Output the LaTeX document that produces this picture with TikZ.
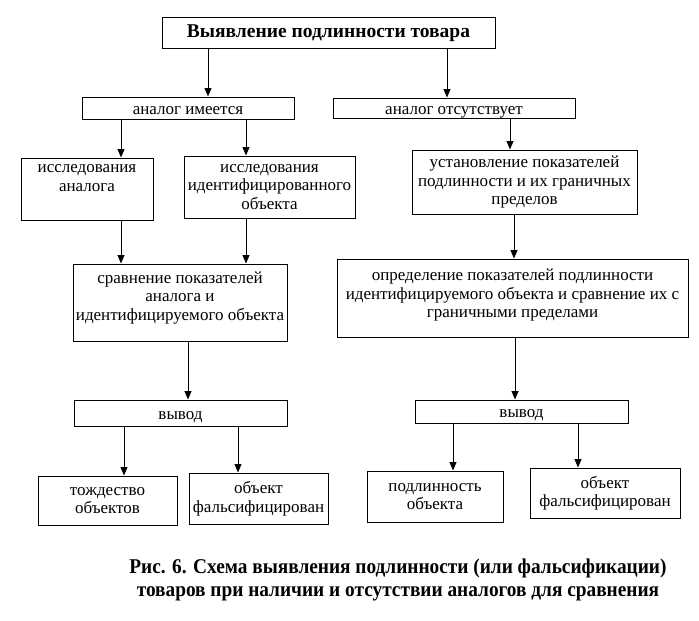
\documentclass[tikz,border=0pt]{standalone}
\usepackage{fontspec}
\setmainfont{Liberation Serif}
\newfontfamily\capfont{Liberation Serif}[FakeStretch=0.92]
\usetikzlibrary{arrows.meta}

\begin{document}
\begin{tikzpicture}[x=1pt, y=-1pt,
        frame/.style={draw, line width=1pt, rectangle, inner sep=0pt, font=\fontsize{17}{18.5}\selectfont},
        box/.style={frame, align=center},
        single/.style={frame, text height=15pt, text depth=2.3pt},
        title_node/.style={frame, font=\fontsize{19.5}{20}\selectfont\bfseries, text height=12pt, text depth=2.3pt},
        caption_node/.style={align=center, font=\capfont\bfseries\fontsize{21}{23}\selectfont},
        arr/.style={line width=1pt, -{Triangle[length=8.5pt, width=7pt]}}
    ]
    \useasboundingbox (0,0) rectangle (699,621);

    % Titolo
    \node[title_node, minimum width=333pt, minimum height=31pt] (top) at (328.5,32.5) {Выявление подлинности товара};

    % Ramo sinistro
    \node[single, minimum width=212pt, minimum height=22pt] (has) at (188,108) {аналог имеется};
    \node[box, minimum width=132pt, minimum height=62pt, text depth=22pt] (resA) at (87,189) {исследования\\аналога};
    \node[box, minimum width=171pt, minimum height=62pt] (resB) at (269.5,187) {исследования\\идентифицированного\\объекта};
    \node[box, minimum width=214pt, minimum height=77pt, text depth=13pt] (cmpA) at (180,302.5) {сравнение показателей\\аналога и\\идентифицируемого объекта};
    \node[single, minimum width=213pt, minimum height=26pt] (outA) at (180.5,413) {вывод};
    \node[box, minimum width=139pt, minimum height=49pt] (idA) at (107.5,500.5) {тождество\\объектов};
    \node[box, minimum width=139pt, minimum height=51pt] (fakeA) at (258.5,498.5) {объект\\фальсифицирован};

    % Ramo destro
    \node[single, minimum width=242pt, minimum height=20pt] (none) at (454,108) {аналог отсутствует};
    \node[box, minimum width=225pt, minimum height=64pt] (setup) at (524.5,182) {установление показателей\\подлинности и их граничных\\пределов};
    \node[box, minimum width=351pt, minimum height=78pt, text depth=9pt] (defB) at (512.5,298) {определение показателей подлинности\\идентифицируемого объекта и сравнение их с\\граничными пределами};
    \node[single, minimum width=213pt, minimum height=23pt] (outB) at (521.5,411.5) {вывод};
    \node[box, minimum width=136pt, minimum height=51pt] (authB) at (435,496.5) {подлинность\\объекта};
    \node[box, minimum width=150pt, minimum height=50pt] (fakeB) at (605,493) {объект\\фальсифицирован};

    % Frecce
    \foreach \a/\b/\x in {top/has/208, top/none/447, has/resA/121, has/resB/246,
                          none/setup/510, resA/cmpA/121, resB/cmpA/246, setup/defB/514,
                          cmpA/outA/188, defB/outB/515, outA/idA/124, outA/fakeA/238,
                          outB/authB/453, outB/fakeB/578} {
        \path (\x,0) coordinate (col);
        \draw[arr] (\a.south -| col) -- (\b.north -| col);
    }

    % Didascalia
    \node[caption_node] (cap) at (398,580) {Рис. 6. Схема выявления подлинности (или фальсификации)\\товаров при наличии и отсутствии аналогов для сравнения};
\end{tikzpicture}
\end{document}
